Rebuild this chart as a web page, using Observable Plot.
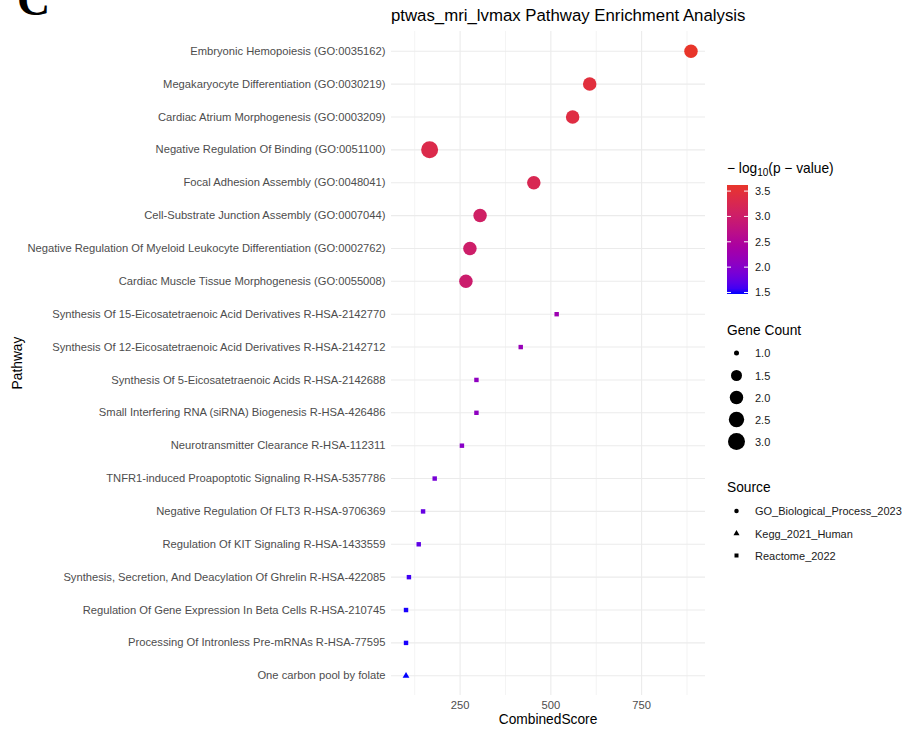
<!DOCTYPE html>
<html><head><meta charset="utf-8">
<script src="https://cdn.jsdelivr.net/npm/d3@7"></script>
<script src="https://cdn.jsdelivr.net/npm/@observablehq/plot@0.6"></script>
<style>
body{margin:0;background:#fff;}
#wrap{position:relative;width:907px;height:731px;overflow:hidden;background:#fff;}
#wrap svg{position:absolute;left:0;top:0;}
</style></head><body><div id="wrap"></div>
<script>
const pathways = [
  "Embryonic Hemopoiesis (GO:0035162)",
  "Megakaryocyte Differentiation (GO:0030219)",
  "Cardiac Atrium Morphogenesis (GO:0003209)",
  "Negative Regulation Of Binding (GO:0051100)",
  "Focal Adhesion Assembly (GO:0048041)",
  "Cell-Substrate Junction Assembly (GO:0007044)",
  "Negative Regulation Of Myeloid Leukocyte Differentiation (GO:0002762)",
  "Cardiac Muscle Tissue Morphogenesis (GO:0055008)",
  "Synthesis Of 15-Eicosatetraenoic Acid Derivatives R-HSA-2142770",
  "Synthesis Of 12-Eicosatetraenoic Acid Derivatives R-HSA-2142712",
  "Synthesis Of 5-Eicosatetraenoic Acids R-HSA-2142688",
  "Small Interfering RNA (siRNA) Biogenesis R-HSA-426486",
  "Neurotransmitter Clearance R-HSA-112311",
  "TNFR1-induced Proapoptotic Signaling R-HSA-5357786",
  "Negative Regulation Of FLT3 R-HSA-9706369",
  "Regulation Of KIT Signaling R-HSA-1433559",
  "Synthesis, Secretion, And Deacylation Of Ghrelin R-HSA-422085",
  "Regulation Of Gene Expression In Beta Cells R-HSA-210745",
  "Processing Of Intronless Pre-mRNAs R-HSA-77595",
  "One carbon pool by folate"
];
const combinedScore = [886, 607, 560, 166, 453, 305, 277, 266, 516, 417, 295, 295, 255, 180, 148, 136, 109, 101, 101, 101];
const negLog10P = [3.62, 3.45, 3.40, 3.32, 3.25, 3.06, 3.01, 2.98, 2.25, 2.18, 2.10, 2.10, 2.03, 1.88, 1.76, 1.72, 1.58, 1.49, 1.49, 1.47];
const geneCount = [2, 2, 2, 3, 2, 2, 2, 2, 1, 1, 1, 1, 1, 1, 1, 1, 1, 1, 1, 1];
const source = [
  "GO_Biological_Process_2023","GO_Biological_Process_2023","GO_Biological_Process_2023","GO_Biological_Process_2023",
  "GO_Biological_Process_2023","GO_Biological_Process_2023","GO_Biological_Process_2023","GO_Biological_Process_2023",
  "Reactome_2022","Reactome_2022","Reactome_2022","Reactome_2022","Reactome_2022","Reactome_2022",
  "Reactome_2022","Reactome_2022","Reactome_2022","Reactome_2022","Reactome_2022","Kegg_2021_Human"
];
const sources = ["GO_Biological_Process_2023","Kegg_2021_Human","Reactome_2022"];
const colorTicks = [1.5, 2.0, 2.5, 3.0, 3.5];
const sizeTicks = [1.0, 1.5, 2.0, 2.5, 3.0];
const xTicks = [250, 500, 750];
const xMinorTicks = [125, 375, 625, 875];
const titleText = "ptwas_mri_lvmax Pathway Enrichment Analysis";

const data = pathways.map((p, i) => ({pathway: p, score: combinedScore[i], logp: negLog10P[i], count: geneCount[i], source: source[i]}));
const pMin = d3.min(negLog10P), pMax = d3.max(negLog10P);

const W = 907, H = 731, mL = 391, mR = 202, mT = 31, mB = 36;
const FONT = '"Liberation Sans", Arial, Helvetica, sans-serif';

const chart = Plot.plot({
  width: W, height: H, marginLeft: mL, marginRight: mR, marginTop: mT, marginBottom: mB,
  style: {fontFamily: FONT, fontSize: "11.2px", color: "#4d4d4d", background: "transparent"},
  x: {domain: [61, 926], label: null},
  y: {type: "point", domain: pathways, padding: 0.6, round: false, label: null},
  color: {type: "linear", domain: [pMin, pMax], range: ["#0000ff", "#e8352a"], interpolate: "lab"},
  r: {type: "sqrt", domain: [0, 2], range: [2.5, 8.5]},
  symbol: {domain: sources, range: ["circle", "triangle", "square"]},
  marks: [
    Plot.ruleX(xMinorTicks, {stroke: "#ebebeb", strokeWidth: 0.6}),
    Plot.ruleX(xTicks, {stroke: "#ebebeb", strokeWidth: 1.1}),
    Plot.ruleY(pathways, {stroke: "#ebebeb", strokeWidth: 1.1}),
    Plot.axisX(xTicks, {tickSize: 0, tickPadding: 5.5, label: null}),
    Plot.axisY({tickSize: 0, tickPadding: 6, label: null}),
    Plot.dot(data, {x: "score", y: "pathway", fill: "logp", r: d => d.count - 1, symbol: "source", stroke: null})
  ]
});
const wrap = document.getElementById("wrap");
wrap.appendChild(chart);

// scales for legends
let colorFn, rFn;
try { const cs = chart.scale("color"); colorFn = cs.apply ? (v => cs.apply(v)) : null; } catch (e) {}
try { const rs = chart.scale("r"); rFn = rs.apply ? (v => rs.apply(v)) : null; } catch (e) {}
if (!colorFn) { const s = d3.scaleLinear().domain([pMin, pMax]).range(["#0000ff", "#e8352a"]).interpolate(d3.interpolateLab); colorFn = s; }
if (!rFn) { const s = d3.scaleSqrt().domain([0, 2]).range([2.5, 8.5]); rFn = s; }

const svg = d3.create("svg").attr("width", W).attr("height", H).attr("font-family", FONT);

// panel tag
svg.append("text").attr("x", 17).attr("y", 15)
  .attr("font-family", '"Liberation Serif", "Times New Roman", serif').attr("font-weight", "bold")
  .attr("font-size", 46).attr("fill", "#000").text("C");
// title
svg.append("text").attr("x", 391).attr("y", 20.5).attr("font-size", 16.8).attr("fill", "#000").text(titleText);
// axis titles
svg.append("text").attr("x", (mL + (W - mR)) / 2).attr("y", 724).attr("text-anchor", "middle")
  .attr("font-size", 13.75).attr("fill", "#000").text("CombinedScore");
svg.append("text").attr("transform", `translate(21.5,${(mT + H - mB) / 2}) rotate(-90)`).attr("text-anchor", "middle")
  .attr("font-size", 13.75).attr("fill", "#000").text("Pathway");

// color legend
const lx = 727;
const ct = svg.append("text").attr("x", lx).attr("y", 173).attr("font-size", 13.75).attr("fill", "#000");
ct.append("tspan").text("\u2212 log");
ct.append("tspan").attr("font-size", 10).attr("dy", 3).text("10");
ct.append("tspan").attr("dy", -3).text("(p \u2212 value)");

const barTop = 185, barBot = 294, barW = 21;
const ys = d3.scaleLinear().domain([pMin, pMax]).range([barBot, barTop]);
const defs = svg.append("defs");
const grad = defs.append("linearGradient").attr("id", "cg").attr("x1", 0).attr("y1", 1).attr("x2", 0).attr("y2", 0);
d3.range(0, 1.0001, 0.05).forEach(t => {
  grad.append("stop").attr("offset", t).attr("stop-color", colorFn(pMin + t * (pMax - pMin)));
});
svg.append("rect").attr("x", lx).attr("y", barTop).attr("width", barW).attr("height", barBot - barTop).attr("fill", "url(#cg)");
colorTicks.forEach(v => {
  const y = ys(v);
  svg.append("line").attr("x1", lx).attr("x2", lx + 4).attr("y1", y).attr("y2", y).attr("stroke", "#fff").attr("stroke-width", 1);
  svg.append("line").attr("x1", lx + barW - 4).attr("x2", lx + barW).attr("y1", y).attr("y2", y).attr("stroke", "#fff").attr("stroke-width", 1);
  svg.append("text").attr("x", 755).attr("y", y + 4).attr("font-size", 11).attr("fill", "#1a1a1a").text(v.toFixed(1));
});

// gene count legend
svg.append("text").attr("x", lx).attr("y", 335).attr("font-size", 13.75).attr("fill", "#000").text("Gene Count");
const sizeY = [353, 375.5, 397.5, 419.5, 441.5];
sizeTicks.forEach((v, i) => {
  svg.append("circle").attr("cx", 736.5).attr("cy", sizeY[i]).attr("r", rFn(v - 1)).attr("fill", "#000");
  svg.append("text").attr("x", 755).attr("y", sizeY[i] + 4).attr("font-size", 11).attr("fill", "#1a1a1a").text(v.toFixed(1));
});

// source legend
svg.append("text").attr("x", lx).attr("y", 492).attr("font-size", 13.75).attr("fill", "#000").text("Source");
const symTypes = [d3.symbolCircle, d3.symbolTriangle, d3.symbolSquare];
const srcY = [511, 533.5, 555.5];
sources.forEach((s, i) => {
  svg.append("path").attr("transform", `translate(736.5,${srcY[i]})`)
    .attr("d", d3.symbol(symTypes[i], 16)()).attr("fill", "#000");
  svg.append("text").attr("x", 755).attr("y", srcY[i] + 4).attr("font-size", 11).attr("fill", "#1a1a1a").text(s);
});

wrap.appendChild(svg.node());
</script>
</body></html>
